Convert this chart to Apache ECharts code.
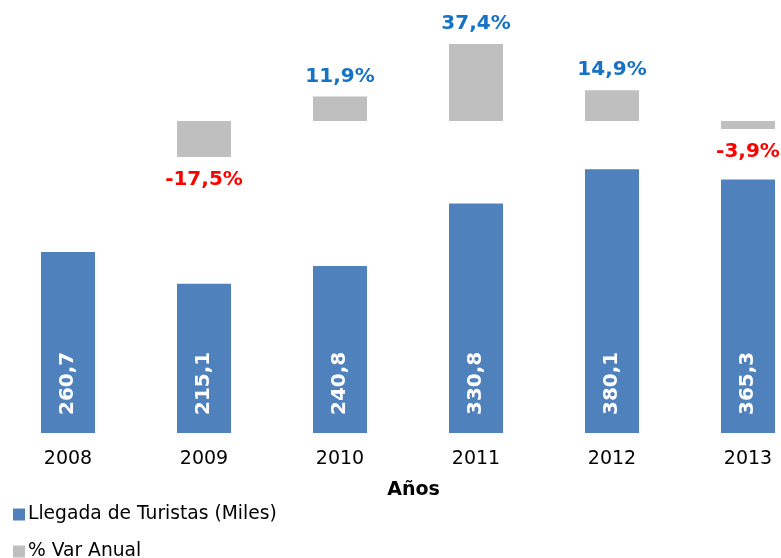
<!DOCTYPE html>
<html>
<head>
<meta charset="utf-8">
<script src="https://cdn.jsdelivr.net/npm/echarts@6/dist/echarts.min.js"></script>
<style>
    html, body { margin: 0; padding: 0; background: #fff; }
    #chart { width: 781px; height: 558px; }
</style>
</head>
<body>
<div id="chart"></div>
<script>
// datos
const years = ['2008', '2009', '2010', '2011', '2012', '2013']
const llegadas = [260.7, 215.1, 240.8, 330.8, 380.1, 365.3]
const varAnual = [null, -17.5, 11.9, 37.4, 14.9, -3.9]

const fmt = (v) => String(v).replace('.', ',')

const chart = echarts.init(document.getElementById('chart'))

const legendBase = {
    orient: 'vertical',
    left: 13,
    padding: 0,
    itemWidth: 12,
    itemHeight: 12,
    itemGap: 0,
    icon: 'rect',
    textStyle: { fontSize: 18.7, color: '#000', padding: [0, 0, 0, -2] }
}

const option = {
    animation: false,
    textStyle: { fontFamily: 'DejaVu Sans' },
    legend: [
        Object.assign({}, legendBase, { top: 505, data: ['Llegada de Turistas (Miles)'] }),
        Object.assign({}, legendBase, { top: 542, data: ['% Var Anual'] })
    ],
    grid: {
        left: 0,
        top: 0,
        width: 816,
        bottom: 125,
        outerBoundsMode: 'none',
        containLabel: false
    },
    xAxis: {
        type: 'category',
        data: years,
        axisLine: { show: false },
        axisTick: { show: false },
        axisLabel: { fontSize: 19, color: '#000', margin: 17 },
        name: 'Años',
        nameLocation: 'middle',
        nameGap: 48,
        nameTextStyle: { fontSize: 19, fontWeight: 'bold', color: '#000', padding: [0, 0, 0, 11] }
    },
    yAxis: [
        { type: 'value', min: 0, max: 624, show: false, splitLine: { show: false } },
        { type: 'value', min: -151.5, max: 58.7, show: false, splitLine: { show: false } }
    ],
    series: [
        {
            name: 'Llegada de Turistas (Miles)',
            type: 'bar',
            data: llegadas,
            barWidth: 54,
            barGap: '-100%',
            itemStyle: { color: '#4f81bd' },
            label: {
                show: true,
                position: 'insideBottom',
                rotate: 90,
                align: 'left',
                verticalAlign: 'middle',
                distance: 18,
                color: '#fff',
                fontSize: 20,
                fontWeight: 'bold',
                formatter: (p) => fmt(p.value)
            }
        },
        {
            name: '% Var Anual',
            type: 'bar',
            yAxisIndex: 1,
            barWidth: 54,
            barGap: '-100%',
            itemStyle: { color: '#bfbfbf' },
            data: varAnual.map(v => ({
                value: v,
                label: {
                    show: v !== null,
                    position: v < 0 ? 'bottom' : 'top',
                    distance: v < 0 ? 13 : 10,
                    color: v < 0 ? '#ff0000' : '#1672c4',
                    fontSize: 20,
                    fontWeight: 'bold',
                    formatter: (p) => fmt(p.value) + '%'
                }
            }))
        }
    ]
}

chart.setOption(option)
</script>
</body>
</html>
